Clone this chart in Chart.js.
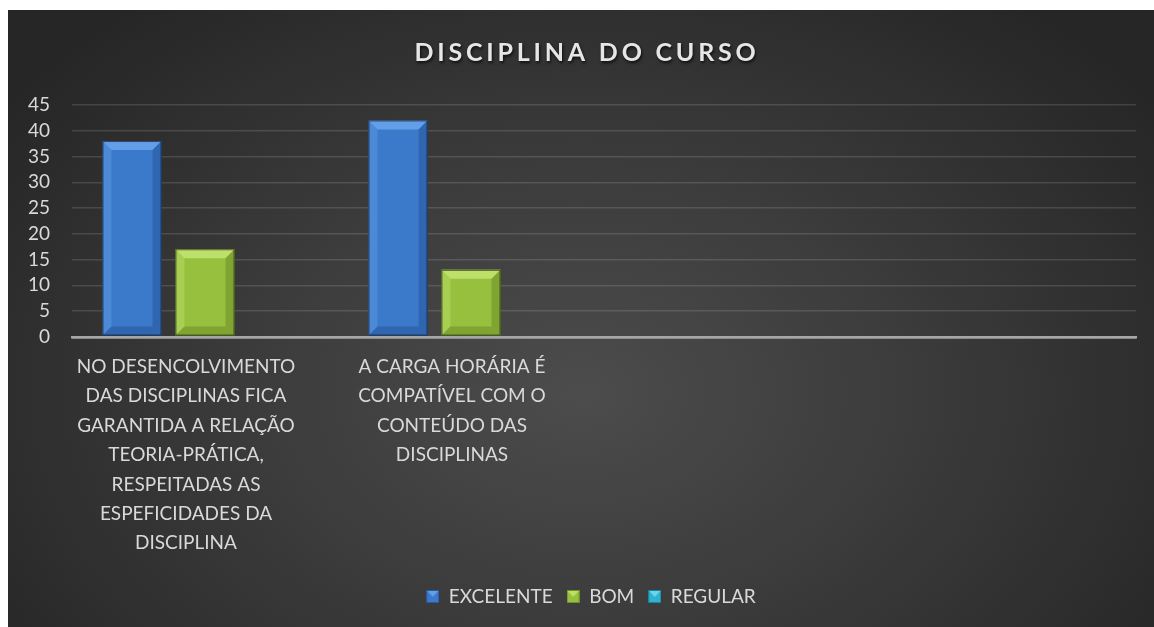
<!DOCTYPE html>
<html>
<head>
<meta charset="utf-8">
<script src="https://cdn.jsdelivr.net/npm/chart.js@4.4.0/dist/chart.umd.min.js"></script>
<style>
  html, body { margin: 0; padding: 0; background: #fff; }
  #wrap {
    position: absolute; left: 8px; top: 10px; width: 1146px; height: 617px;
    background: radial-gradient(ellipse 62% 80% at 50% 62%, #4c4c4c 0%, #3c3c3c 45%, #262626 100%);
  }
</style>
</head>
<body>
<div id="wrap"><canvas id="chart"></canvas></div>
<script>
// dados
const TITLE = "DISCIPLINA DO CURSO";
const categories = [
  ["NO DESENCOLVIMENTO", "DAS DISCIPLINAS FICA", "GARANTIDA A RELAÇÃO", "TEORIA-PRÁTICA,", "RESPEITADAS AS", "ESPEFICIDADES DA", "DISCIPLINA"],
  ["A CARGA HORÁRIA É", "COMPATÍVEL COM O", "CONTEÚDO DAS", "DISCIPLINAS"],
  "",
  ""
];
const seriesNames = ["EXCELENTE", "BOM", "REGULAR"];
const excelente = [38, 42, null, null];
const bom = [17, 13, null, null];
const regular = [0, 0, null, null];

const FONT = "Lato, 'Open Sans', sans-serif";
const TEXT = "#d9d9d9";

// cores: principal, bisel claro, bisel escuro
const palette = [
  { main: "#3b79cb", light: "#629fe8", dark: "#285a9c" },
  { main: "#97c03f", light: "#bde06a", dark: "#6f9128" },
  { main: "#2fb3d1", light: "#6ad6ee", dark: "#1f829a" }
];

function marker(p) {
  const c = document.createElement("canvas");
  c.width = 13; c.height = 13;
  const g = c.getContext("2d");
  g.fillStyle = p.main; g.fillRect(0, 0, 13, 13);
  g.fillStyle = p.light;
  g.beginPath(); g.moveTo(1, 1); g.lineTo(12, 1); g.lineTo(6.5, 7); g.closePath(); g.fill();
  g.strokeStyle = p.dark; g.lineWidth = 1; g.strokeRect(0.5, 0.5, 12, 12);
  return c;
}

// titulo com espacamento entre letras
const titlePlugin = {
  id: "spacedTitle",
  afterDraw(chart) {
    const ctx = chart.ctx;
    ctx.save();
    ctx.font = "bold 25px " + FONT;
    ctx.letterSpacing = "3.8px";
    ctx.textAlign = "center";
    ctx.textBaseline = "alphabetic";
    ctx.shadowColor = "rgba(0,0,0,0.7)";
    ctx.shadowOffsetX = 1; ctx.shadowOffsetY = 2; ctx.shadowBlur = 3;
    ctx.fillStyle = "#e6e6e6";
    ctx.fillText(TITLE, chart.width / 2 + 6, 51);
    ctx.restore();
  }
};

// legenda um pouco deslocada para a direita, como no original
const legendShift = {
  id: "legendShift",
  afterLayout(chart) {
    if (chart.legend) { chart.legend.left += 19; chart.legend.right += 19; }
  }
};

// bisel nas barras
const bevelPlugin = {
  id: "bevel",
  afterDatasetsDraw(chart) {
    const ctx = chart.ctx;
    chart.data.datasets.forEach((ds, i) => {
      const p = palette[i];
      chart.getDatasetMeta(i).data.forEach((bar, j) => {
        if (ds.data[j] == null) return;
        const x0 = bar.x - bar.width / 2, x1 = bar.x + bar.width / 2;
        const y0 = bar.y, y1 = bar.base;
        const h = y1 - y0;
        if (h < 2) return;
        const b = Math.min(9, bar.width / 4, h / 2);
        ctx.save();
        ctx.fillStyle = p.light;
        ctx.beginPath(); ctx.moveTo(x0, y0); ctx.lineTo(x1, y0); ctx.lineTo(x1 - b, y0 + b); ctx.lineTo(x0 + b, y0 + b); ctx.closePath(); ctx.fill();
        ctx.globalAlpha = 0.45;
        ctx.beginPath(); ctx.moveTo(x0, y0); ctx.lineTo(x0 + b, y0 + b); ctx.lineTo(x0 + b, y1 - b); ctx.lineTo(x0, y1); ctx.closePath(); ctx.fill();
        ctx.globalAlpha = 0.6;
        ctx.fillStyle = p.dark;
        ctx.beginPath(); ctx.moveTo(x1, y0); ctx.lineTo(x1 - b, y0 + b); ctx.lineTo(x1 - b, y1 - b); ctx.lineTo(x1, y1); ctx.closePath(); ctx.fill();
        ctx.beginPath(); ctx.moveTo(x0, y1); ctx.lineTo(x0 + b, y1 - b); ctx.lineTo(x1 - b, y1 - b); ctx.lineTo(x1, y1); ctx.closePath(); ctx.fill();
        ctx.globalAlpha = 1;
        ctx.strokeStyle = "rgba(0,0,0,0.55)";
        ctx.lineWidth = 1;
        ctx.strokeRect(x0 + 0.5, y0 + 0.5, bar.width - 1, h - 1);
        ctx.restore();
      });
    });
  }
};

const seriesData = [excelente, bom, regular];

new Chart(document.getElementById("chart"), {
  type: "bar",
  data: {
    labels: categories,
    datasets: seriesData.map((d, i) => ({
      label: seriesNames[i],
      data: d,
      backgroundColor: palette[i].main,
      borderWidth: 0,
      categoryPercentage: 0.823,
      barPercentage: 0.81
    }))
  },
  options: {
    responsive: true,
    maintainAspectRatio: false,
    animation: false,
    layout: { padding: { top: 95, left: 0, right: 18, bottom: 11 } },
    plugins: {
      title: { display: false },
      tooltip: { enabled: false },
      legend: {
        position: "bottom",
        labels: {
          color: TEXT,
          font: { family: FONT, size: 19 },
          padding: 14,
          boxWidth: 13,
          boxHeight: 13,
          usePointStyle: true,
          generateLabels(chart) {
            return chart.data.datasets.map((ds, i) => ({
              text: ds.label,
              pointStyle: marker(palette[i]),
              fontColor: TEXT,
              lineWidth: 0,
              datasetIndex: i
            }));
          }
        }
      }
    },
    scales: {
      x: {
        grid: { display: false, drawTicks: false },
        border: { display: true, color: "#a6a6a6", width: 2.5 },
        ticks: {
          color: TEXT,
          font: { family: FONT, size: 19, lineHeight: 1.55 },
          padding: 15,
          labelOffset: -19,
          maxRotation: 0,
          autoSkip: false
        }
      },
      y: {
        min: 0,
        max: 45,
        afterFit(scale) { scale.width = 64; },
        ticks: {
          stepSize: 5,
          autoSkip: false,
          color: TEXT,
          font: { family: FONT, size: 19 },
          padding: 22
        },
        grid: {
          drawTicks: false,
          color: (c) => (c.tick && c.tick.value === 0 ? "#a6a6a6" : "rgba(255,255,255,0.13)"),
          lineWidth: (c) => (c.tick && c.tick.value === 0 ? 2.5 : 1.5)
        },
        border: { display: false }
      }
    }
  },
  plugins: [titlePlugin, legendShift, bevelPlugin]
});
</script>
</body>
</html>
